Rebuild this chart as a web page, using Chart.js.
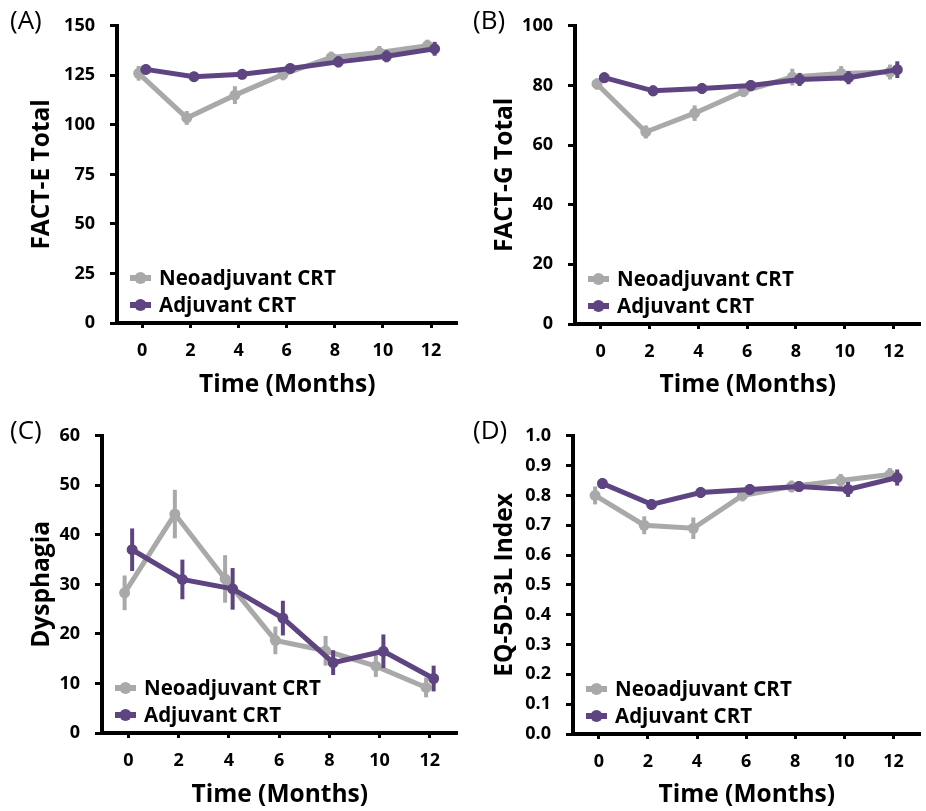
<!DOCTYPE html>
<html>
<head>
<meta charset="utf-8">
<title>FACT-E, FACT-G, Dysphagia and EQ-5D-3L over 12 months</title>
<script src="https://cdn.jsdelivr.net/npm/chart.js@4.4.1/dist/chart.umd.min.js"></script>
<style>
  body { margin: 0; background: #fff; width: 926px; height: 811px; overflow: hidden; position: relative; }
  canvas { position: absolute; }
</style>
</head>
<body>
<canvas id="panelA" width="463" height="400" style="left:0;top:0"></canvas>
<canvas id="panelB" width="463" height="400" style="left:463px;top:0"></canvas>
<canvas id="panelC" width="463" height="400" style="left:0;top:410px"></canvas>
<canvas id="panelD" width="463" height="400" style="left:463px;top:410px"></canvas>
<script>
// time points and group names
const months = [0, 2, 4, 6, 8, 10, 12];
const groupNames = ['Neoadjuvant CRT', 'Adjuvant CRT'];

// (A) FACT-E total
const factENeo    = [126, 103.5, 115, 125.5, 134, 136.5, 140];
const factENeoErr = [3.7, 3.5, 4.5, 3, 3, 3.3, 3];
const factEAdj    = [128, 124.3, 125.5, 128.5, 131.8, 134.6, 138.4];
const factEAdjErr = [2.5, 2.5, 2.5, 2.5, 2.8, 3, 3.5];
const factETicks  = [0, 25, 50, 75, 100, 125, 150];

// (B) FACT-G total
const factGNeo    = [80.5, 64.4, 70.7, 78, 82.8, 84, 84.5];
const factGNeoErr = [1.9, 2.2, 2.6, 1.9, 2.8, 2.5, 2.5];
const factGAdj    = [82.6, 78.2, 79, 80, 82, 82.6, 85.3];
const factGAdjErr = [1.8, 1.8, 1.8, 1.8, 2.2, 2.2, 2.8];
const factGTicks  = [0, 20, 40, 60, 80, 100];

// (C) Dysphagia
const dysNeo    = [28.3, 44.2, 31.1, 18.7, 16.6, 13.5, 9.2];
const dysNeoErr = [3.5, 4.9, 4.8, 2.8, 3, 2.2, 2];
const dysAdj    = [37, 31, 29.1, 23.2, 14.2, 16.5, 11];
const dysAdjErr = [4.3, 4, 4.2, 3.5, 2.5, 3.4, 2.6];
const dysTicks  = [0, 10, 20, 30, 40, 50, 60];

// (D) EQ-5D-3L index
const eqNeo    = [0.80, 0.70, 0.69, 0.80, 0.83, 0.85, 0.87];
const eqNeoErr = [0.03, 0.03, 0.036, 0.02, 0.02, 0.022, 0.022];
const eqAdj    = [0.84, 0.77, 0.81, 0.82, 0.83, 0.82, 0.86];
const eqAdjErr = [0.018, 0.018, 0.018, 0.018, 0.018, 0.025, 0.027];
const eqTicks  = [0, 0.1, 0.2, 0.3, 0.4, 0.5, 0.6, 0.7, 0.8, 0.9, 1.0];

const GREY = '#a9a9a9';
const PURPLE = '#5e4582';
const FONT = '"Open Sans", sans-serif';

Chart.defaults.font.family = FONT;
Chart.defaults.color = '#000';

// vertical error bars, drawn just before each line so they sit under it
const errorBars = {
  id: 'errorBars',
  beforeDatasetDraw(chart, args) {
    const ds = chart.data.datasets[args.index];
    if (!ds.errors) return;
    const y = chart.scales.y;
    const ctx = chart.ctx;
    ctx.save();
    ctx.strokeStyle = ds.borderColor;
    ctx.lineWidth = 4;
    args.meta.data.forEach((pt, i) => {
      const v = ds.data[i].y;
      const e = ds.errors[i];
      ctx.beginPath();
      ctx.moveTo(pt.x, y.getPixelForValue(v - e));
      ctx.lineTo(pt.x, y.getPixelForValue(v + e));
      ctx.stroke();
    });
    ctx.restore();
  }
};

// legend in the lower left corner of the plot
const cornerLegend = {
  id: 'cornerLegend',
  afterDraw(chart) {
    const { ctx, chartArea } = chart;
    ctx.save();
    chart.data.datasets.forEach((ds, i) => {
      const x0 = chartArea.left + 13;
      const cy = chartArea.bottom - 45 + i * 27;
      ctx.strokeStyle = ds.borderColor;
      ctx.fillStyle = ds.borderColor;
      ctx.lineWidth = 6;
      ctx.beginPath();
      ctx.moveTo(x0, cy);
      ctx.lineTo(x0 + 21, cy);
      ctx.stroke();
      ctx.beginPath();
      ctx.arc(x0 + 10.5, cy, 6, 0, Math.PI * 2);
      ctx.fill();
      ctx.fillStyle = '#000';
      ctx.font = 'bold 20.5px ' + FONT;
      ctx.textBaseline = 'middle';
      ctx.textAlign = 'left';
      ctx.fillText(ds.label, x0 + 29, cy + 1);
    });
    ctx.restore();
  }
};

// "(A)", "(B)" ... in the top left corner
const panelTag = {
  id: 'panelTag',
  afterDraw(chart, args, opts) {
    const ctx = chart.ctx;
    ctx.save();
    ctx.font = '26px ' + FONT;
    ctx.fillStyle = '#000';
    ctx.textBaseline = 'middle';
    ctx.textAlign = 'left';
    ctx.fillText(opts.text, 10, 22);
    ctx.restore();
  }
};

function series(values, errors, name, color, shift, order) {
  return {
    label: name,
    data: months.map((m, i) => ({ x: m + shift, y: values[i] })),
    errors: errors,
    borderColor: color,
    backgroundColor: color,
    pointBackgroundColor: color,
    pointBorderWidth: 0,
    pointRadius: 5.5,
    borderWidth: 5,
    tension: 0,
    order: order
  };
}

function axisGrid(len) {
  return {
    display: true,
    drawOnChartArea: false,
    drawTicks: true,
    tickLength: len,
    tickWidth: 3,
    tickColor: '#000'
  };
}

function makePanel(id, tag, yTitle, yTicks, neo, neoErr, adj, adjErr, box, fmt) {
  new Chart(document.getElementById(id), {
    type: 'line',
    data: {
      datasets: [
        series(neo, neoErr, groupNames[0], GREY, -0.15, 2),
        series(adj, adjErr, groupNames[1], PURPLE, 0.15, 1)
      ]
    },
    options: {
      responsive: false,
      animation: false,
      layout: { padding: { top: box.top, right: 463 - box.right, left: 0, bottom: 0 } },
      plugins: {
        legend: { display: false },
        tooltip: { enabled: false },
        panelTag: { text: tag }
      },
      scales: {
        x: {
          type: 'linear',
          min: -1.05,
          max: 13.1,
          afterBuildTicks: (s) => { s.ticks = months.map(v => ({ value: v })); },
          afterFit: (s) => { s.height = 400 - box.bottom; },
          grid: axisGrid(5),
          border: { display: true, color: '#000', width: 4 },
          ticks: { autoSkip: false, maxRotation: 0, padding: 12, font: { size: 18, weight: 'bold' } },
          title: { display: true, text: 'Time (Months)', padding: { top: 0, bottom: 0 }, font: { size: 24.5, weight: 'bold' } }
        },
        y: {
          min: yTicks[0],
          max: yTicks[yTicks.length - 1],
          afterBuildTicks: (s) => { s.ticks = yTicks.map(v => ({ value: v })); },
          afterFit: (s) => { s.width = box.left; },
          grid: axisGrid(7),
          border: { display: true, color: '#000', width: 4 },
          ticks: {
            padding: 15,
            font: { size: 18, weight: 'bold' },
            callback: fmt || ((v) => v)
          },
          title: { display: true, text: yTitle, padding: { top: 27, bottom: 0 }, font: { size: 24.5, weight: 'bold' } }
        }
      }
    },
    plugins: [errorBars, cornerLegend, panelTag]
  });
}

makePanel('panelA', '(A)', 'FACT-E Total', factETicks, factENeo, factENeoErr, factEAdj, factEAdjErr,
  { left: 117, right: 462, top: 20, bottom: 323 });
makePanel('panelB', '(B)', 'FACT-G Total', factGTicks, factGNeo, factGNeoErr, factGAdj, factGAdjErr,
  { left: 112, right: 460, top: 21, bottom: 324 });
makePanel('panelC', '(C)', 'Dysphagia', dysTicks, dysNeo, dysNeoErr, dysAdj, dysAdjErr,
  { left: 102, right: 462, top: 19, bottom: 323 });
makePanel('panelD', '(D)', 'EQ-5D-3L Index', eqTicks, eqNeo, eqNeoErr, eqAdj, eqAdjErr,
  { left: 110, right: 460, top: 21, bottom: 324 }, (v) => v.toFixed(1));
</script>
</body>
</html>
